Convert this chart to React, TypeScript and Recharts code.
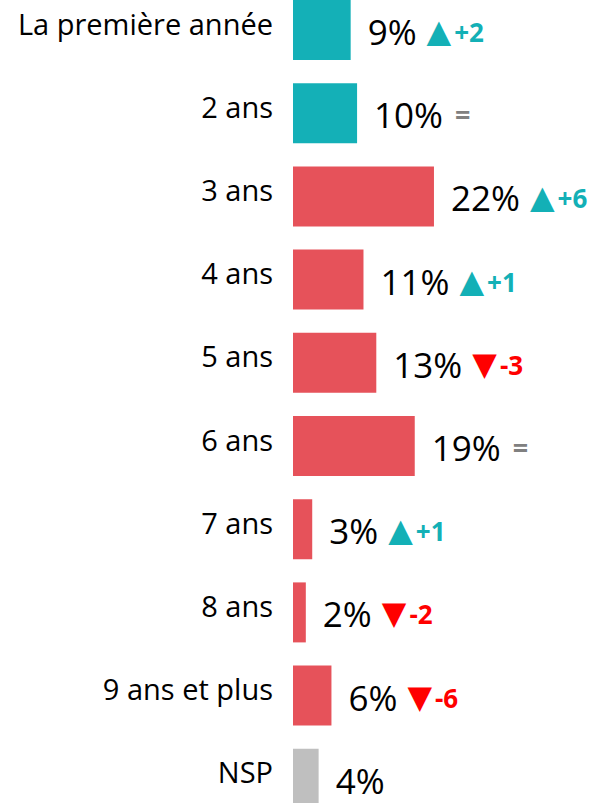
import React from 'react';
import { BarChart, Bar, XAxis, YAxis, Cell, LabelList } from 'recharts';

const categories = [
  'La première année',
  '2 ans',
  '3 ans',
  '4 ans',
  '5 ans',
  '6 ans',
  '7 ans',
  '8 ans',
  '9 ans et plus',
  'NSP',
];
const values = [9, 10, 22, 11, 13, 19, 3, 2, 6, 4];
// evolution vs previous wave (null = no comparison)
const changes: (number | null)[] = [2, 0, 6, 1, -3, 0, 1, -2, -6, null];
const groups = ['debut', 'debut', 'suite', 'suite', 'suite', 'suite', 'suite', 'suite', 'suite', 'nsp'];

const groupColors: Record<string, string> = {
  debut: '#14b0b7',
  suite: '#e6525a',
  nsp: '#bfbfbf',
};

const TEAL = '#13b0b6';
const RED = '#ff0000';
const FONT = '"Open Sans", "Noto Sans", sans-serif';

const data = categories.map((name, i) => ({ name, value: values[i], change: changes[i], group: groups[i] }));

const CategoryTick: React.FC<any> = ({ x, y, payload }) => (
  <text x={x - 12} y={y + 5} textAnchor="end" fontSize={29} fill="#000" fontFamily={FONT}>
    {payload.value}
  </text>
);

const ValueLabel: React.FC<any> = ({ x, y, width, height, value, index }) => {
  const change = changes[index];
  let delta: React.ReactNode = null;
  if (change === 0) {
    delta = (
      <tspan dx={12} dy={-3} fontWeight="bold" fontSize={27} fill="#808080">
        =
      </tspan>
    );
  } else if (change !== null && change !== undefined) {
    const up = change > 0;
    const color = up ? TEAL : RED;
    delta = (
      <>
        <tspan dx={10} dy={-3} fontFamily="DejaVu Sans" fontSize={32} fill={color}>
          {up ? '▲' : '▼'}
        </tspan>
        <tspan dx={3} fontWeight="bold" fontSize={26} fill={color}>
          {up ? `+${change}` : `${change}`}
        </tspan>
      </>
    );
  }
  return (
    <text x={x + width + 17} y={y + height / 2 + 15} fontSize={35} fill="#000" fontFamily={FONT}>
      <tspan>{value}%</tspan>
      {delta}
    </text>
  );
};

const App: React.FC = () => {
  return (
    <div style={{ position: 'absolute', left: 0, top: -12 }}>
      <BarChart
        width={598}
        height={832}
        data={data}
        layout="vertical"
        margin={{ top: 0, right: 0, left: 0, bottom: 0 }}
        barSize={60}
      >
        <XAxis type="number" hide domain={[0, 47.6]} />
        <YAxis
          type="category"
          dataKey="name"
          width={293}
          axisLine={false}
          tickLine={false}
          tick={<CategoryTick />}
          interval={0}
        />
        <Bar dataKey="value" isAnimationActive={false}>
          {data.map((d, i) => (
            <Cell key={i} fill={groupColors[d.group]} />
          ))}
          <LabelList dataKey="value" content={<ValueLabel />} />
        </Bar>
      </BarChart>
    </div>
  );
};

export default App;
